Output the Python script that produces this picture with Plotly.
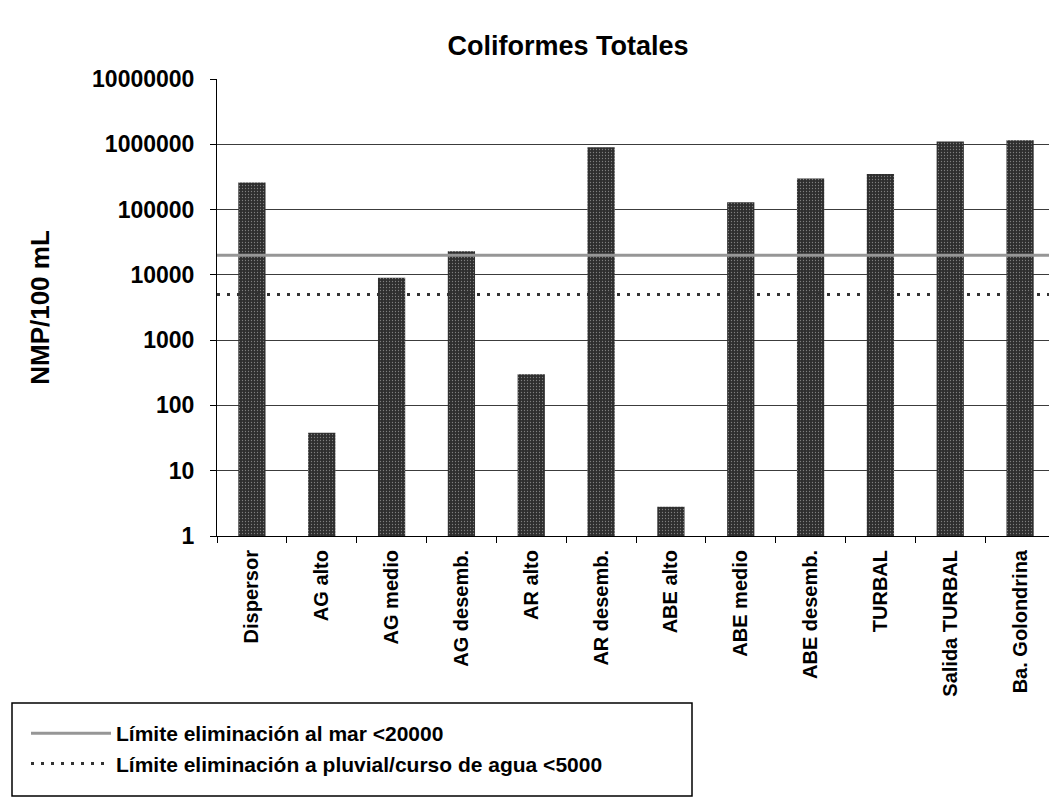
import plotly.graph_objects as go

categories = ["Dispersor", "AG alto", "AG medio", "AG desemb.", "AR alto", "AR desemb.",
              "ABE alto", "ABE medio", "ABE desemb.", "TURBAL", "Salida TURBAL", "Ba. Golondrina"]
coliformes = [260000, 38, 9000, 23000, 300, 900000, 2.8, 130000, 300000, 350000, 1100000, 1150000]

limit_mar_name = "Límite eliminación al mar <20000"
limit_mar = 20000
limit_pluvial_name = "Límite eliminación a pluvial/curso de agua <5000"
limit_pluvial = 5000

y_ticks = [1, 10, 100, 1000, 10000, 100000, 1000000, 10000000]
y_ticktext = [str(v) for v in y_ticks]

FONT = "Arial, Liberation Sans, sans-serif"

W, H = 1057, 801
OFF = 8  # page body margin offset
# desired page positions of the plot area
PX0, PX1, PY0, PY1 = 217, 1055, 79, 536
L = PX0 - OFF
R = W - (PX1 - OFF)
T = PY0 - OFF
B = H - (PY1 - OFF)
PW = W - L - R
PH = H - T - B


def px_to_paper_x(px):
    return (px - OFF - L) / PW


def py_to_paper_y(py):
    return (H - B - (py - OFF)) / PH


fig = go.Figure()

fig.add_trace(go.Bar(
    x=categories, y=coliformes, showlegend=False,
    marker=dict(color="#333333", line=dict(width=0),
                pattern=dict(shape=".", fgcolor="#cfcfcf", bgcolor="#2e2e2e",
                             size=3, solidity=0.14)),
))

fig.add_trace(go.Scatter(
    x=[0, 1], y=[limit_mar, limit_mar], xaxis="x2", yaxis="y",
    mode="lines", name=limit_mar_name,
    line=dict(color="#969696", width=3),
))
fig.add_trace(go.Scatter(
    x=[0, 1], y=[limit_pluvial, limit_pluvial], xaxis="x2", yaxis="y",
    mode="lines", name=limit_pluvial_name,
    line=dict(color="#333333", width=3, dash="3px,7px"),
))

fig.update_layout(
    width=W, height=H,
    margin=dict(l=L, r=R, t=T, b=B, autoexpand=False),
    paper_bgcolor="white", plot_bgcolor="white",
    font=dict(family=FONT, color="black"),
    bargap=0.61,
    title=dict(text="<b>Coliformes Totales</b>", font=dict(size=27, family=FONT),
               x=px_to_paper_x(568), xref="paper", xanchor="center",
               y=1 - (46 - OFF) / H, yref="container", yanchor="middle"),
    xaxis=dict(
        type="category", showgrid=False, showline=True, linecolor="black", linewidth=1,
        ticks="outside", tickson="boundaries", ticklen=6, tickcolor="black",
        ticklabelstandoff=5,
        tickangle=-90, tickfont=dict(size=20, family=FONT, weight="bold"),
        zeroline=False, automargin=False,
    ),
    xaxis2=dict(overlaying="x", range=[0, 1], visible=False, fixedrange=True),
    yaxis=dict(
        type="log", range=[0, 7], tickvals=y_ticks, ticktext=y_ticktext,
        showgrid=True, gridcolor="#3c3c3c", gridwidth=1,
        showline=True, linecolor="black", linewidth=1,
        ticks="outside", ticklen=6, tickcolor="black", ticklabelstandoff=11,
        tickfont=dict(size=23, family=FONT, weight="bold"),
        title=dict(text="<b>NMP/100 mL</b>", font=dict(size=26, family=FONT), standoff=34),
        zeroline=False, automargin=False,
    ),
    showlegend=True,
    legend=dict(
        x=px_to_paper_x(26), xanchor="left", y=py_to_paper_y(713), yanchor="top",
        bgcolor="rgba(0,0,0,0)", borderwidth=0,
        font=dict(size=21, family=FONT, weight="bold"),
        itemwidth=80, tracegroupgap=0,
    ),
    shapes=[dict(type="rect", xref="paper", yref="paper",
                 x0=px_to_paper_x(12), x1=px_to_paper_x(692),
                 y0=py_to_paper_y(796), y1=py_to_paper_y(703),
                 line=dict(color="black", width=1.5), fillcolor="rgba(0,0,0,0)",
                 layer="below")],
)

fig.write_html("out.html")
